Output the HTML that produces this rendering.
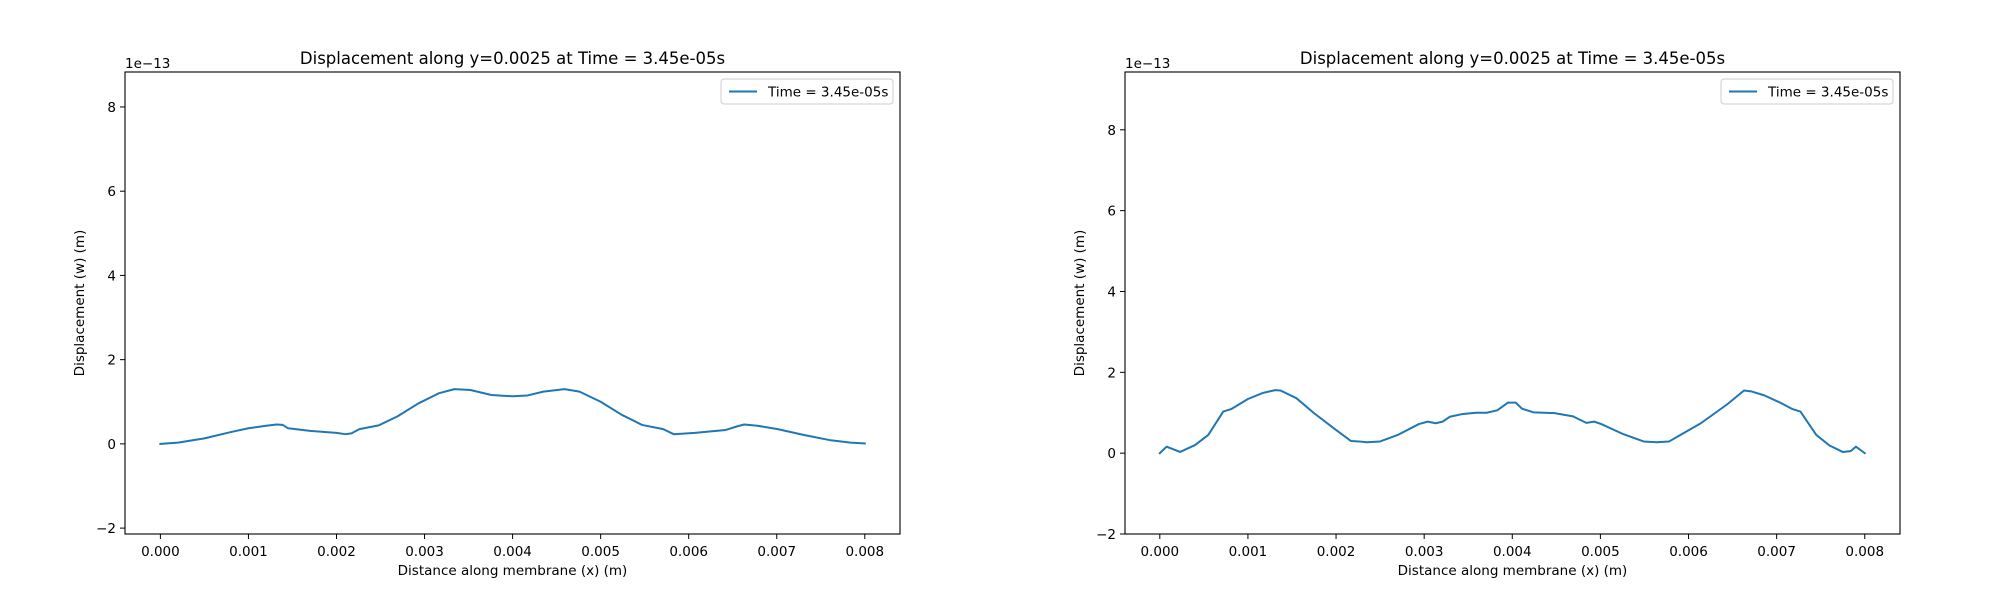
<!DOCTYPE html>
<html><head><meta charset="utf-8"><style>
html,body{margin:0;padding:0;background:#fff;}
svg{display:block;font-family:"DejaVu Sans","Liberation Sans",sans-serif;}
</style></head><body>
<svg id="fig" width="2000" height="600" viewBox="0 0 2000 600"></svg>
<script>
const xTicks = [0, 0.001, 0.002, 0.003, 0.004, 0.005, 0.006, 0.007, 0.008];
const xTickLabels = ["0.000","0.001","0.002","0.003","0.004","0.005","0.006","0.007","0.008"];
const yTicks = [-2, 0, 2, 4, 6, 8];
const yTickLabels = ["\u22122","0","2","4","6","8"];
const leftX = [0,0.0002,0.0005,0.0008,0.001,0.0012,0.00132,0.00139,0.00145,0.0017,0.002,0.0021,0.00217,0.00226,0.00248,0.00269,0.00293,0.00316,0.00334,0.00352,0.00376,0.004,0.00417,0.00435,0.00459,0.00476,0.005,0.00524,0.00547,0.00571,0.00583,0.00607,0.00642,0.00654,0.00663,0.00678,0.00701,0.00731,0.0076,0.00784,0.008];
const leftY = [0,0.03,0.13,0.28,0.37,0.43,0.46,0.45,0.37,0.31,0.26,0.23,0.25,0.35,0.44,0.65,0.96,1.2,1.3,1.28,1.16,1.13,1.15,1.24,1.3,1.24,1.0,0.69,0.45,0.35,0.23,0.26,0.33,0.41,0.46,0.43,0.35,0.21,0.09,0.03,0.01];
const rightX = [0,0.000077,0.00023,0.0004,0.00055,0.00072,0.00081,0.001,0.00117,0.00131,0.00137,0.00155,0.00175,0.00199,0.00217,0.00226,0.00235,0.0025,0.0027,0.00294,0.00304,0.00313,0.00321,0.00329,0.00344,0.00359,0.00371,0.00383,0.00395,0.00404,0.00411,0.00424,0.00448,0.00469,0.00484,0.00493,0.00501,0.00525,0.00549,0.00564,0.00578,0.0059,0.00614,0.00644,0.00663,0.00671,0.00686,0.00704,0.00718,0.00727,0.00745,0.0076,0.00775,0.00784,0.0079,0.008];
const rightY = [0,0.16,0.03,0.2,0.45,1.03,1.09,1.34,1.49,1.56,1.55,1.36,0.99,0.59,0.3,0.29,0.27,0.29,0.45,0.72,0.78,0.74,0.78,0.9,0.97,1.0,1.0,1.06,1.25,1.25,1.1,1.01,0.99,0.91,0.75,0.78,0.72,0.48,0.29,0.27,0.29,0.44,0.74,1.21,1.55,1.53,1.43,1.25,1.09,1.03,0.45,0.19,0.03,0.05,0.16,0];
const titleText = "Displacement along y=0.0025 at Time = 3.45e-05s";
const legendText = "Time = 3.45e-05s";

const NS = "http://www.w3.org/2000/svg";
const fig = document.getElementById('fig');
function mk(tag, attrs, parent){const e=document.createElementNS(NS,tag);for(const k in attrs)e.setAttribute(k,attrs[k]);parent.appendChild(e);return e;}

function panel(idx, L, R, T, B, xmin, xmax, ymin, ymax, xs, ys){
  const g = mk('g',{},fig);
  
  
  const sx = v => L + (v - xmin) / (xmax - xmin) * (R - L);
  const sy = v => B - (v - ymin) / (ymax - ymin) * (B - T);
  // line
  let d = '';
  xs.forEach((x,i)=>{ d += (i?'L':'M') + sx(x).toFixed(2) + ' ' + sy(ys[i]).toFixed(2); });
  const p = mk('path',{d:d,fill:'none',stroke:'#1f77b4','stroke-width':2,'stroke-linejoin':'round','stroke-linecap':'square'},g);
  
  
  // frame
  const fr = mk('rect',{x:L,y:T,width:R-L,height:B-T,fill:'none',stroke:'#000','stroke-width':1.1},g);
  
  
  // x ticks
  xTicks.forEach((v,i)=>{
    const x = sx(v);
    mk('line',{x1:x,x2:x,y1:B,y2:B+5,stroke:'#000','stroke-width':1},g);
    const t = mk('text',{x:x,y:B+22,'text-anchor':'middle','font-size':13.5,fill:'#000'},g);
    t.textContent = xTickLabels[i];
    
    
  });
  yTicks.forEach((v,i)=>{
    const y = sy(v);
    mk('line',{x1:L-5,x2:L,y1:y,y2:y,stroke:'#000','stroke-width':1},g);
    const t = mk('text',{x:L-9,y:y+5,'text-anchor':'end','font-size':13.5,fill:'#000'},g);
    t.textContent = yTickLabels[i];
    
    
  });
  const off = mk('text',{x:L,y:T-4,'font-size':13.5,fill:'#000'},g);
  off.textContent = '1e\u221213';
  
  
  const ti = mk('text',{x:(L+R)/2,y:T-8,'text-anchor':'middle','font-size':16.5,fill:'#000'},g);
  ti.textContent = titleText;
  
  
  const xl = mk('text',{x:(L+R)/2,y:B+41,'text-anchor':'middle','font-size':13.5,fill:'#000'},g);
  xl.textContent = 'Distance along membrane (x) (m)';
  
  
  const ylx = L - 41, yly = (T+B)/2;
  const yl = mk('text',{x:ylx,y:yly,'text-anchor':'middle','font-size':13.5,fill:'#000',transform:'rotate(-90 '+ylx+' '+yly+')'},g);
  yl.textContent = 'Displacement (w) (m)';
  
  
  // legend
  const lg = mk('g',{},g);
  
  
  mk('rect',{x:R-179,y:T+7,width:172,height:25,rx:3,fill:'#fff',stroke:'#ccc','stroke-width':1},lg);
  mk('line',{x1:R-171,x2:R-143,y1:T+19.5,y2:T+19.5,stroke:'#1f77b4','stroke-width':2},lg);
  const lt = mk('text',{x:R-132,y:T+24.5,'font-size':13.5,fill:'#000'},lg);
  lt.textContent = legendText;
  
  
}
panel(1, 125, 900, 72, 534, -0.000402, 0.0084, -2.14, 8.83, leftX, leftY);
panel(2, 1125, 1900, 72, 534, -0.000395, 0.0084, -2.0, 9.43, rightX, rightY);
</script>
</body></html>
